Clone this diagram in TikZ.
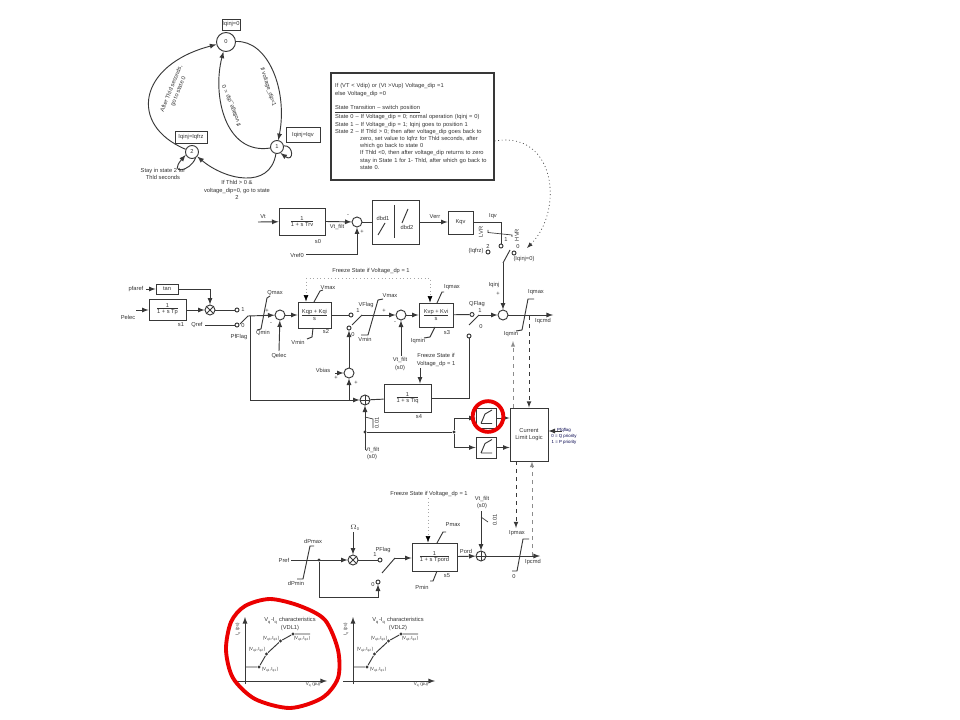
\documentclass[tikz,border=0pt]{standalone}
\usepackage{fontspec}
\setmainfont{Liberation Sans}
\usetikzlibrary{arrows.meta}

\newcommand{\blkfrac}[2]{$\frac{\mbox{#1}}{\mbox{#2}}$}

\begin{document}
\begin{tikzpicture}[x=0.75pt,y=-0.75pt,>=latex,
 every path/.append style={line width=0.7pt,color=black!78},
 lbl/.style={inner sep=0,text=black!80,align=center,font=\fontsize{4.3}{5.6}\selectfont},
 tiny/.style={lbl,font=\fontsize{3.3}{4.4}\selectfont},
 wh/.style 2 args={minimum width=#1*0.75pt,minimum height=#2*0.75pt},
 blk/.style={draw,inner sep=0,text=black!80,align=center,font=\fontsize{4.3}{5.6}\selectfont},
 state/.style={blk,circle,fill=white},
 sumj/.style={draw,circle,inner sep=0,minimum size=7.5pt},
 multj/.style={sumj,path picture={\draw (path picture bounding box.north west) -- (path picture bounding box.south east)
   (path picture bounding box.north east) -- (path picture bounding box.south west);}},
 plusj/.style={sumj,path picture={\draw (path picture bounding box.north) -- (path picture bounding box.south)
   (path picture bounding box.east) -- (path picture bounding box.west);}},
 term/.style={draw,circle,inner sep=0,minimum size=3pt},
 dot/.style={fill,circle,inner sep=0,minimum size=2.5pt},
 thin line/.style={line width=0.5pt},
 dashline/.style={dashed,line width=0.6pt},
 dashgrey/.style={dashed,line width=0.5pt,color=black!45},
 fzline/.style={dotted,line width=0.4pt,color=black!35,-{Latex[black]}},
 redmark/.style={line width=2.9pt,color=red!92!black,line join=round}]

\path [use as bounding box,fill=white] (0,0) rectangle (960,720);

% state machine
\node [state,wh={19}{19}] (st0) at (226,42) {0};
\node [state,wh={13}{13}] (st1) at (277,147) {1};
\node [state,wh={13}{13}] (st2) at (192,152) {2};
\node [blk,wh={18}{11}] (bx0) at (231,24.5) {Iqinj=0};
\node [blk,wh={34}{15}] (bx1) at (303,135) {Iqinj=Iqv};
\node [blk,wh={32}{12}] (bx2) at (191,137) {Iqinj=Iqfrz};
\draw [->] (st0) .. controls (268,40) and (288,90) .. (st1);
\draw [->] (st1) .. controls (225,155) and (212,95) .. (st0);
\draw [->] (st2) .. controls (128,125) and (138,65) .. (st0);
\draw [->] (st1) .. controls (270,190) and (225,180) .. (st2);
\draw [->] (st2.-60) .. controls (190,172) and (168,175) .. (st2.205);
\draw [->] (st1.10) .. controls (294,145) and (294,163) .. (st1.-60);
\node [lbl,rotate=68] (lb1) at (175,90) {After Thld seconds,\\go to state 0};
\node [lbl,rotate=-72] (lb2) at (268,87) {If voltage\_dip=1};
\node [lbl,rotate=111] (lb3) at (232,106) {If voltage\_dip = 0};
\node [lbl] (lb4) at (163,174) {Stay in state 2 for\\Thld seconds};
\node [lbl] (lb5) at (237,190) {If Thld > 0 \&\\voltage\_dip=0, go to state\\2};

% logic text
\node [draw,line width=0.9pt,wh={163}{107},inner xsep=3pt,inner ysep=0,text width=116pt,align=left,text=black!80,
 font=\fontsize{4.3}{5.4}\selectfont] (note) at (412.5,126.5) {If (VT < Vdip) or (Vt >Vup) Voltage\_dip =1\\
else Voltage\_dip =0\\[5.4pt]
\underline{State Transition -- switch position}\\
State 0 -- If Voltage\_dip = 0; normal operation (Iqinj = 0)\\
State 1 -- If Voltage\_dip = 1; Iqinj goes to position  1\\
State 2 -- If Thld > 0; then after voltage\_dip goes back to\\
\hspace*{18.75pt}zero, set value to Iqfrz for Thld seconds, after\\
\hspace*{18.75pt}which go  back to state 0\\
\hspace*{18.75pt}If Thld <0, then after voltage\_dip returns to zero\\
\hspace*{18.75pt}stay in State 1 for 1- Thld, after which go back to\\
\hspace*{18.75pt}state 0.};
\coordinate (swtip) at (527,248);
\draw [dotted,line width=0.5pt,->] (note.east |- 0,141) .. controls (555,130) and (565,210) .. (swtip);

% voltage dip row
\node [lbl] (vt) at (263,217) {Vt};
\coordinate (vtin) at (258,222);
\node [blk,wh={46}{27}] (trv) at (302,221.5) {\blkfrac{1}{1 + s Trv}};
\node [lbl] (s0) at (318,242) {s0};
\node [lbl] (vtf) at (337,227) {Vt\_filt};
\node [sumj] (vsum) at (357,222) {};
\node [lbl] (vm) at (348,216) {-};
\node [lbl] (vp) at (362,232) {+};
\node [lbl] (vref) at (297,255) {Vref0};
\coordinate (vrefin) at (306,254);
\node [blk,wh={47}{44}] (dbd) at (395.5,222) {};
\node [lbl] (d1) at (383,218) {dbd1};
\node [lbl] (d2) at (407,227) {dbd2};
\draw (394,205) -- (394,238);
\draw (378,235) -- (385,223);
\draw (402,223) -- (408,209);
\node [lbl] (verr) at (435,217) {Verr};
\node [blk,wh={25}{23}] (kqv) at (460.5,222.5) {Kqv};
\node [lbl] (iqv) at (493,216) {Iqv};
\draw [->] (vtin) -- (trv);
\draw [->] (trv.east) -- (vsum);
\draw [->] (vrefin) -| (vsum);
\draw (vsum) -- (dbd);
\draw [->] (dbd.east) -- (kqv.west |- dbd.east);

% switch
\node [term] (t1) at (501,246) {};
\node [term] (t2) at (488,252) {};
\node [term] (t3) at (514,253) {};
\coordinate (bla) at (503,263);
\coordinate (blb) at (510,250);
\coordinate (arm1) at (488,230);
\coordinate (arm2) at (488,232.5);
\coordinate (arm3) at (512,235);
\coordinate (arm4) at (512,237);
\draw (kqv.east |- 0,222) -| (t1);
\draw (bla) -- (blb);
\draw [thin line] (arm1) -- (arm2) -- (arm3) -- (arm4);
\node [lbl] (n2) at (488,246) {2};
\node [lbl] (n1) at (506,240) {1};
\node [lbl] (n0) at (518,247) {0};
\node [lbl] (frz) at (476,251) {(Iqfrz)};
\node [lbl] (inj) at (524,259) {(Iqinj=0)};
\node [lbl,rotate=90] (lvr) at (481,232) {LVR};
\node [lbl,rotate=90] (hvr) at (517,235) {HVR};

% reactive power row
\node [lbl] (pfa) at (136,289) {pfaref};
\coordinate (pfain) at (146,289);
\node [blk,wh={22}{10}] (tan) at (167,289) {tan};
\node [lbl] (pel) at (128,317) {Pelec};
\coordinate (pelin) at (136,310);
\node [blk,wh={37}{21}] (tp) at (167.5,309.5) {\blkfrac{1}{1 + s Tp}};
\node [lbl] (s1) at (181,325) {s1};
\node [multj] (mul) at (210,310) {};
\node [term] (pf1) at (237,310) {};
\node [term] (pf0) at (237,325) {};
\node [lbl] (pf1n) at (243,310) {1};
\node [lbl] (pf0n) at (243,326) {0};
\node [lbl] (qref) at (197,325) {Qref};
\coordinate (qrefin) at (205,325);
\node [lbl] (pffl) at (239,337) {PfFlag};
\coordinate (pfa1) at (240,324);
\coordinate (pfb1) at (248,316);
\coordinate (pfj) at (250,316);
\node [sumj] (qsum) at (280,315) {};
\node [lbl] (qmax) at (275,293) {Qmax};
\node [lbl] (qmin) at (263,333) {Qmin};
\node [lbl] (qp) at (267,311) {+};
\node [lbl] (qm) at (271,324) {-};
\draw (257,330) -- (261,329) -- (267,298) -- (270,296);
\node [lbl] (qel) at (279,356) {Qelec};
\coordinate (qelin) at (279,351);
\node [blk,wh={33}{26}] (kqp) at (314.5,315) {\blkfrac{Kqp + Kqi}{s}};
\node [lbl] (vmax1) at (328,288) {Vmax};
\node [lbl] (vmin1) at (298,342) {Vmin};
\node [lbl] (s2) at (326,332) {s2};
\draw (314,302) -- (320,291) -- (323,290);
\draw (307,339) -- (312,337) -- (313,328);
\node [term] (vf1) at (351,315) {};
\node [term] (vf0) at (349,328) {};
\node [lbl] (vfl) at (366,305) {VFlag};
\node [lbl] (vf1n) at (358,311) {1};
\node [lbl] (vf0n) at (353,335) {0};
\coordinate (vfa) at (352,325);
\coordinate (vfb) at (362,315);
\node [sumj] (psum) at (401,315) {};
\node [lbl] (vmax2) at (390,296) {Vmax};
\node [lbl] (vmin2) at (365,339) {Vmin};
\node [lbl] (pp) at (384,311) {+};
\node [lbl] (pm) at (395,323) {-};
\draw (361,335) -- (368,335) -- (378,300) -- (383,299);
\node [lbl] (vtf2) at (400,364) {Vt\_filt\\(s0)};
\coordinate (vtf2out) at (401,356);
\node [blk,wh={34}{24}] (kvp) at (436,315) {\blkfrac{Kvp + Kvi}{s}};
\node [lbl] (iqmax1) at (452,287) {Iqmax};
\node [lbl] (iqmin1) at (418,341) {Iqmin};
\node [lbl] (s3) at (447,333) {s3};
\draw (437,303) -- (442,292) -- (444,292);
\draw (424,338) -- (430,337) -- (435,327);
\node [term] (qf1) at (472,314.5) {};
\node [term] (qf0) at (469,336) {};
\node [lbl] (qfl) at (477,304) {QFlag};
\node [lbl] (qf1n) at (480,311) {1};
\node [lbl] (qf0n) at (481,327) {0};
\coordinate (qfa) at (469,325);
\coordinate (qfb) at (479,315);
\node [sumj] (isum) at (503,315) {};
\node [lbl] (iqinj) at (494,285) {Iqinj};
\node [lbl] (ip) at (498,294) {+};
\node [lbl] (iqmax2) at (536,292) {Iqmax};
\node [lbl] (iqmin2) at (511,334) {Iqmin};
\node [lbl] (iqc) at (543,321) {Iqcmd};
\coordinate (iqout) at (553,315);
\draw (516,331) -- (522,330) -- (528,299) -- (534,299);
\node [lbl] (fr1) at (371,271) {Freeze State if Voltage\_dp = 1};
\coordinate (fz1) at (306,278);
\coordinate (fz2) at (430,278);
\draw [->] (pfain) -- (tan);
\draw [->] (pelin) -- (tp.west |- pelin);
\draw [->] (tp.east |- mul) -- (mul);
\draw [->] (tan) -| (mul);
\draw (mul) -- (pf1);
\draw (qrefin) -- (pf0);
\draw (pfa1) -- (pfb1);
\draw [->] (pfb1) -- (qsum);
\draw [->] (qelin) -- (qsum);
\draw [->] (qsum) -- (kqp);
\draw (kqp) -- (vf1);
\draw (vfa) -- (vfb);
\draw [->] (vfb) -- (psum);
\draw [->] (psum) -- (kvp);
\draw [->] (vtf2out) -- (psum);
\draw (kvp) -- (qf1);
\draw (qfa) -- (qfb);
\draw [->] (qfb) -- (isum);
\draw [->] (isum) -- (iqout);
\draw [->] (bla) -- (isum);
\draw [fzline] (fz1) -- (kqp.north -| fz1);
\draw [fzline] (fz1) -- (fz2) -- (kvp.north -| fz2);

% lower feedback and current limit
\node [sumj] (vbs) at (349,373) {};
\node [lbl] (vb) at (323,370) {Vbias};
\coordinate (vbin) at (335,373);
\node [lbl] (vbp1) at (336,378) {+};
\node [lbl] (vbp2) at (356,383) {+};
\node [plusj] (ps4) at (365,400) {};
\coordinate (vbj) at (349,400);
\node [blk,wh={47}{28}] (tq) at (407.5,398) {\blkfrac{1}{1 + s Tiq}};
\node [lbl] (s4) at (419,417) {s4};
\node [lbl] (fr2) at (436,360) {Freeze State if\\Voltage\_dp = 1};
\coordinate (fr2out) at (420,368);
\node [dot] (j1) at (365,432) {};
\node [dot] (j2) at (454,432) {};
\node [lbl] (vtf3) at (372,453.5) {Vt\_filt\\(s0)};
\coordinate (vtf3out) at (365,450);
\draw [thin line] (365,417) -- (373,419) -- (373,428);
\node [lbl,rotate=90] (d01) at (377,423) {0.01};
\node [blk,wh={20}{20}] (lim1) at (486,418) {};
\node [blk,wh={20}{21}] (lim2) at (486,447.5) {};
\foreach \ly in {418,447.5}
 \draw (481,\ly+5.5) -- (485,\ly-4) -- (492,\ly-8) (481,\ly+5.5) -- (492,\ly+5.5);
\node [blk,wh={38}{53}] (cll) at (529,434.5) {Current\\Limit Logic};
\node [tiny,text=blue!30!black] (prio) at (564,436.5) {Pfqflag\\0 = Q priority\\1 = P priority};
\coordinate (prioin) at (562,431);
\coordinate (dJ) at (513,341);
\coordinate (dI) at (529,316);
\coordinate (dK) at (516,528);
\coordinate (dL) at (532,556);
\draw [->] (pfj) |- (ps4);
\draw [->] (vbin) -- (vbs);
\draw [->] (vbj) -- (vbs);
\draw [->] (vbs) -- (vf0);
\draw (ps4) -- (tq);
\draw [->] (fr2out) -- (fr2out |- tq.north);
\draw (tq.east) -| (qf0);
\draw [->] (vtf3out) -- (ps4);
\draw (j1) -- (j2);
\draw [->] (j2) |- (lim1);
\draw [->] (j2) |- (lim2);
\draw [->] (lim1) -- (cll.west |- lim1);
\draw [->] (lim2) -- (cll.west |- lim2);
\draw [->] (prioin) -- (cll.east |- prioin);
\draw [dashgrey,->] (dJ |- cll.north) -- (dJ);
\draw [dashline,->] (dI) -- (dI |- cll.north);
\draw [dashline,->] (dK |- cll.south) -- (dK);
\draw [dashgrey,->] (dL) -- (dL |- cll.south);

% active power row
\node [lbl] (pref) at (284,560) {Pref};
\coordinate (prefin) at (291,560);
\node [lbl] (dpmax) at (313,541) {dPmax};
\node [lbl] (dpmin) at (296,583) {dPmin};
\draw (297,579) -- (303,579) -- (310,546) -- (314,546);
\node [dot] (j3) at (319,560) {};
\node [multj] (mul2) at (353,560) {};
\node [lbl] (omg) at (355,528) {$\Omega$\textsubscript{0}};
\coordinate (omgout) at (353,532);
\node [term] (pp1) at (380,560) {};
\node [term] (pp0) at (378,582) {};
\node [lbl] (pfl) at (383,550) {PFlag};
\node [lbl] (pp1n) at (375,555) {1};
\node [lbl] (pp0n) at (373,585) {0};
\coordinate (ppa) at (382,573);
\coordinate (ppb) at (395,558);
\coordinate (fbk) at (319,597);
\node [lbl] (fr3) at (429,494) {Freeze State if Voltage\_dp = 1};
\coordinate (fr3out) at (428,498);
\node [blk,wh={45}{28}] (tpo) at (434.5,557) {\blkfrac{1}{1 + s Tpord}};
\node [lbl] (s5) at (447,576) {s5};
\node [lbl] (pmax) at (453,525) {Pmax};
\node [lbl] (pmin) at (422,587) {Pmin};
\draw (437,543) -- (443,532) -- (446,532);
\draw (430,581) -- (433,581) -- (437,571);
\node [lbl] (pord) at (466,551) {Pord};
\node [plusj] (ps5) at (481,556) {};
\node [lbl] (vtf4) at (482,502.5) {Vt\_filt\\(s0)};
\coordinate (vtf4out) at (481,511);
\draw [thin line] (481,517) -- (488,522);
\node [lbl,rotate=90] (d02) at (495,520) {0.01};
\node [lbl] (ipmax) at (517,533) {Ipmax};
\node [lbl] (ipz) at (514,577) {0};
\node [lbl] (ipc) at (533,562) {Ipcmd};
\coordinate (ipout) at (540,556);
\draw (512,571) -- (517,571) -- (523,539) -- (529,539);
\draw [->] (prefin) -- (mul2);
\draw [->] (omgout) -- (mul2);
\draw (mul2) -- (pp1);
\draw (j3) -- (fbk);
\draw [->] (fbk) -| (pp0);
\draw (ppa) -- (ppb);
\draw [->] (ppb) -- (tpo.west |- ppb);
\draw [fzline] (fr3out) -- (fr3out |- tpo.north);
\draw [->] (tpo) -- (ps5);
\draw [->] (vtf4out) -- (ps5);
\draw [->] (ps5) -- (ipout);

% characteristics
\foreach \dx/\nm/\vdl in {0/a/1,108/b/2} {
\begin{scope}[xshift=\dx*0.75pt]
 \coordinate (\nm o) at (245,684);
 \coordinate (\nm t) at (245,617);
 \coordinate (\nm l) at (235,681);
 \coordinate (\nm r) at (327,681);
 \coordinate (\nm 0) at (245,667);
 \node [dot] (\nm 1) at (259,667) {};
 \node [dot] (\nm 2) at (266.5,654) {};
 \node [dot] (\nm 3) at (280.5,641) {};
 \node [dot] (\nm 4) at (293,634) {};
 \coordinate (\nm 5) at (310,634);
 \draw [->] (\nm o) -- (\nm t);
 \draw [->] (\nm l) -- (\nm r);
 \draw (\nm 0) -- (\nm 1) -- (\nm 2) -- (\nm 3) -- (\nm 4) -- (\nm 5);
 \node [lbl] (\nm T) at (290,624) {V\textsubscript{q}-I\textsubscript{q} characteristics\\(VDL\vdl)};
 \node [tiny] (\nm p1) at (270,670) {(V\textsubscript{q1},I\textsubscript{q1})};
 \node [tiny] (\nm p2) at (257,650) {(V\textsubscript{q2},I\textsubscript{q2})};
 \node [tiny] (\nm p3) at (271,639) {(V\textsubscript{q3},I\textsubscript{q3})};
 \node [tiny] (\nm p4) at (302,639) {(V\textsubscript{q4},I\textsubscript{q4})};
 \node [tiny] (\nm x) at (313,685) {V\textsubscript{q} (pu)};
 \node [tiny,rotate=90] (\nm y) at (238,629) {I\textsubscript{q} (pu)};
\end{scope}
}

% red marks
\node [draw,redmark,circle,inner sep=0,minimum size=23pt] (mark1) at (488,416.5) {};
\draw [redmark] plot [smooth cycle] coordinates {(270,599) (300,606) (325,620) (338,650) (338,678) (322,698) (290,708) (255,699) (233,678) (226,650) (231,622) (245,606)};

\end{tikzpicture}
\end{document}
